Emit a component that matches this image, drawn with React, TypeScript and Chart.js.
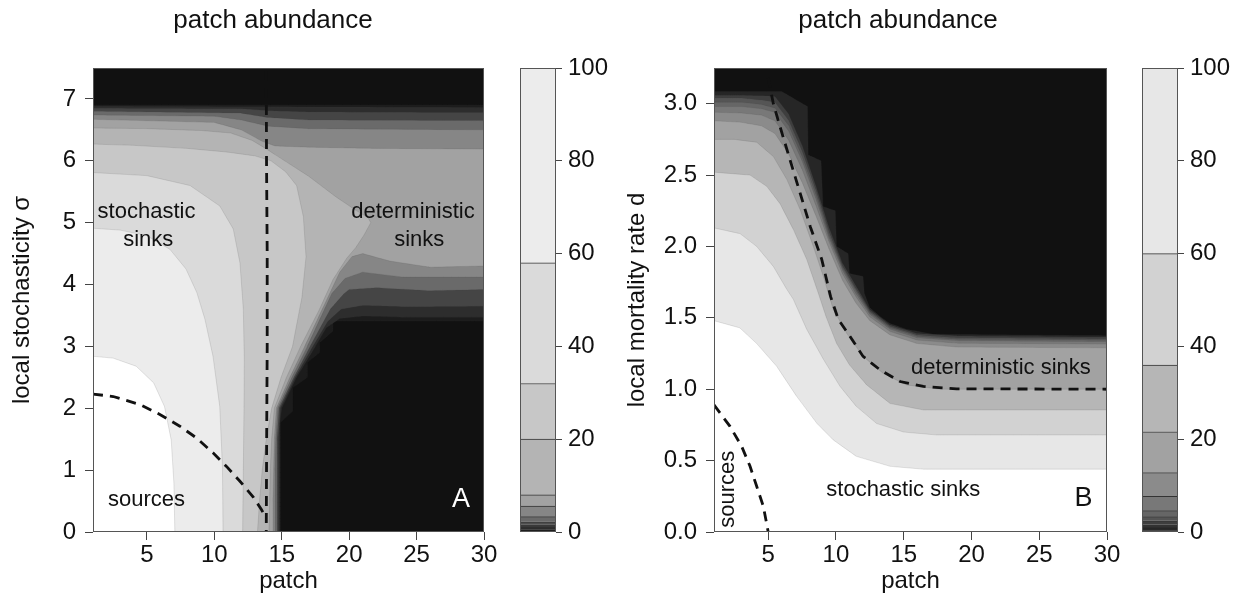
import React, { useEffect, useRef } from "react";
import { Chart, registerables } from "chart.js";

Chart.register(...registerables);

type Pt = [number, number];

const FONT = "'Liberation Sans', Arial, Helvetica, sans-serif";
const INK = "#111111";
const BG_DARK = "#111111";

Chart.defaults.font.family = FONT;
Chart.defaults.color = INK;

// ---------- axis tick values ----------
const patchTicks = [5, 10, 15, 20, 25, 30];
const sigmaTicks = [0, 1, 2, 3, 4, 5, 6, 7];
const mortalityTicks = [0, 0.5, 1.0, 1.5, 2.0, 2.5, 3.0];
const abundanceTicks = [0, 20, 40, 60, 80, 100];

// ---------- Panel A : contour regions (value above level) ----------
const levelsA = [0.25, 0.5, 1.1, 2.2, 3.3, 5.6, 8, 20, 32, 58, 100];
const fillsA = ["#1c1c1c", "#2d2d2d", "#454545", "#6a6a6a", "#868686", "#a2a2a2", "#b4b4b4", "#c7c7c7", "#dadada", "#ececec", "#ffffff"];

const regionA_0_25: Pt[] = [[1, 0], [1, 6.9], [30, 6.9], [30, 3.41], [18.8, 3.41], [18.8, 3.25], [17.8, 3.06], [17.8, 2.9], [16.9, 2.74], [16.9, 2.5], [15.8, 2.33], [15.8, 1.95], [14.9, 1.77], [14.9, 0]];
const regionA_0_5: Pt[] = [[1, 0], [1, 6.88], [30, 6.86], [30, 3.47], [24, 3.47], [21, 3.49], [19.3, 3.45], [18.3, 3.3], [17.5, 3.0], [16.1, 2.5], [15.0, 2.0], [14.85, 1.75], [14.85, 0]];
const regionA_1_1: Pt[] = [[1, 0], [1, 6.85], [12, 6.84], [14, 6.81], [17, 6.79], [30, 6.78], [30, 3.65], [24, 3.64], [21, 3.66], [19.4, 3.6], [18.4, 3.4], [17.3, 3.0], [16.0, 2.5], [14.9, 2.0], [14.75, 1.5], [14.75, 0]];
const regionA_2_2: Pt[] = [[1, 0], [1, 6.8], [12, 6.77], [14, 6.7], [17, 6.66], [30, 6.65], [30, 3.92], [26, 3.9], [22, 3.95], [20, 3.92], [19.6, 3.85], [18.6, 3.6], [17.1, 3.0], [15.9, 2.5], [14.8, 2.0], [14.65, 1.5], [14.65, 0]];
const regionA_3_3: Pt[] = [[1, 0], [1, 6.74], [10, 6.72], [12, 6.66], [14, 6.56], [17, 6.52], [30, 6.5], [30, 4.12], [24, 4.12], [21, 4.2], [19.7, 4.1], [18.7, 3.85], [16.9, 3.0], [15.75, 2.5], [14.7, 2.0], [14.55, 1.5], [14.5, 1.0], [14.5, 0]];
const regionA_5_6: Pt[] = [[1, 0], [1, 6.67], [10, 6.62], [12, 6.5], [13.5, 6.32], [14.5, 6.24], [17, 6.22], [22, 6.2], [30, 6.19], [30, 4.3], [26, 4.28], [23, 4.38], [21, 4.5], [20.2, 4.45], [19.3, 4.2], [16.7, 3.0], [15.6, 2.5], [14.6, 2.0], [14.45, 1.5], [14.4, 1.0], [14.35, 0.5], [14.35, 0]];
const regionA_8: Pt[] = [[1, 0], [1, 6.53], [5, 6.52], [9, 6.49], [11.2, 6.45], [12.8, 6.33], [13.8, 6.2], [14.5, 6.1], [15.5, 5.96], [17, 5.75], [19, 5.42], [20.5, 5.2], [21.4, 5.08], [21.6, 5.0], [21.1, 4.8], [20.5, 4.6], [19.8, 4.42], [18.8, 4.08], [17.8, 3.6], [16.4, 3.0], [15.35, 2.5], [14.45, 2.0], [14.25, 1.5], [14.15, 1.0], [14.1, 0.5], [14.05, 0]];
const regionA_20: Pt[] = [[1, 0], [1, 6.27], [4, 6.25], [8, 6.2], [11, 6.14], [13, 6.08], [14.2, 6.0], [15.3, 5.82], [16.1, 5.6], [16.6, 5.1], [16.8, 4.45], [16.5, 3.8], [15.8, 3.0], [14.95, 2.5], [14.25, 2.0], [13.85, 1.5], [13.55, 1.0], [13.35, 0.5], [13.2, 0]];
const regionA_32: Pt[] = [[1, 0], [1, 5.81], [5, 5.76], [8.2, 5.6], [10.4, 5.27], [11.4, 4.9], [11.9, 4.35], [12.15, 3.6], [12.22, 2.8], [12.2, 2.0], [12.15, 1.0], [12.1, 0]];
const regionA_58: Pt[] = [[1, 0], [1, 4.91], [3, 4.88], [5, 4.79], [6.7, 4.57], [7.9, 4.25], [8.7, 3.87], [9.3, 3.44], [9.9, 2.84], [10.4, 2.03], [10.6, 1.06], [10.65, 0]];
const regionA_100: Pt[] = [[1, 0], [1, 2.84], [2.5, 2.81], [4.2, 2.68], [5.5, 2.41], [6.3, 2.03], [6.8, 1.49], [7.0, 0.79], [7.07, 0]];
const regionsA = [regionA_0_25, regionA_0_5, regionA_1_1, regionA_2_2, regionA_3_3, regionA_5_6, regionA_8, regionA_20, regionA_32, regionA_58, regionA_100];

const dashA_vertical: Pt[] = [[13.85, 7.45], [13.87, 6], [13.92, 4.5], [13.92, 3], [13.88, 1.5], [13.85, 0]];
const dashA_curve: Pt[] = [[1, 2.23], [2.5, 2.19], [4.48, 2.06], [5.96, 1.9], [7.44, 1.71], [8.68, 1.52], [9.9, 1.28], [10.9, 1.06], [11.9, 0.82], [12.87, 0.57], [13.5, 0.36], [13.7, 0.28]];

// ---------- Panel B : contour curves (value above level lies below curve) ----------
const levelsB = [0.3, 1.1, 2.4, 3.3, 4.6, 7.7, 12.8, 21.6, 36, 60, 100];
const fillsB = ["#262626", "#3e3e3e", "#555555", "#666666", "#787878", "#8b8b8b", "#a2a2a2", "#b6b6b6", "#d2d2d2", "#e7e7e7", "#ffffff"];

const curveB_0_3: Pt[] = [[1, 3.085], [6.0, 3.085], [7.9, 2.98], [7.96, 2.64], [8.9, 2.6], [9.05, 2.28], [9.95, 2.25], [10.05, 2.0], [10.9, 1.95], [11.0, 1.81], [12.0, 1.79], [12.1, 1.67], [12.5, 1.57], [13.25, 1.51], [14, 1.46], [15.2, 1.42], [17.2, 1.385], [30, 1.375]];
const curveB_1_1: Pt[] = [[1, 3.06], [3, 3.06], [4.5, 3.055], [5.5, 3.05], [6.5, 2.93], [7.5, 2.71], [8.5, 2.43], [9.5, 2.13], [10.5, 1.88], [11.5, 1.72], [12.5, 1.559], [14, 1.45], [16, 1.39], [19, 1.373], [30, 1.365]];
const curveB_2_4: Pt[] = [[1, 3.04], [3, 3.04], [4.5, 3.025], [5.5, 3.01], [6.5, 2.885], [7.5, 2.67], [8.5, 2.4], [9.5, 2.1], [10.5, 1.86], [11.5, 1.7], [12.5, 1.547], [14, 1.44], [16, 1.38], [19, 1.36], [30, 1.353]];
const curveB_3_3: Pt[] = [[1, 3.01], [3, 3.01], [4.5, 2.995], [5.5, 2.97], [6.5, 2.85], [7.5, 2.63], [8.5, 2.37], [9.5, 2.075], [10.5, 1.845], [11.5, 1.685], [12.5, 1.536], [14, 1.43], [16, 1.37], [19, 1.35], [30, 1.343]];
const curveB_4_6: Pt[] = [[1, 2.98], [3, 2.98], [4.5, 2.965], [5.5, 2.94], [6.5, 2.81], [7.5, 2.6], [8.5, 2.34], [9.5, 2.055], [10.5, 1.83], [11.5, 1.665], [12.5, 1.525], [14, 1.42], [16, 1.36], [19, 1.34], [30, 1.333]];
const curveB_7_7: Pt[] = [[1, 2.94], [3, 2.935], [4.5, 2.92], [5.5, 2.88], [6.5, 2.746], [7.5, 2.54], [8.5, 2.292], [9.5, 2.031], [10.5, 1.805], [11.5, 1.644], [12.5, 1.507], [14, 1.404], [16, 1.344], [19, 1.322], [30, 1.316]];
const curveB_12_8: Pt[] = [[1, 2.88], [3, 2.87], [4.5, 2.845], [5.5, 2.79], [6.5, 2.65], [7.5, 2.45], [8.5, 2.22], [9.5, 1.98], [10.5, 1.76], [11.5, 1.6], [12.5, 1.48], [14, 1.38], [16, 1.32], [19, 1.295], [30, 1.29]];
const curveB_21_6: Pt[] = [[1, 2.75], [2.5, 2.75], [4.15, 2.73], [5.38, 2.63], [6.37, 2.47], [7.35, 2.26], [8.33, 2.0], [9.07, 1.79], [9.8, 1.56], [10.8, 1.39], [12, 1.23], [13.5, 1.11], [15.2, 1.03], [17.7, 1.0], [30, 1.0]];
const curveB_36: Pt[] = [[1, 2.52], [3.66, 2.5], [4.9, 2.42], [5.87, 2.3], [6.85, 2.12], [7.84, 1.91], [8.6, 1.7], [9.3, 1.5], [10.05, 1.32], [11.0, 1.17], [12.27, 1.03], [14, 0.9], [16.45, 0.855], [30, 0.855]];
const curveB_60: Pt[] = [[1, 2.13], [2.92, 2.09], [4.15, 2.0], [5.38, 1.86], [6.37, 1.7], [6.85, 1.63], [7.84, 1.42], [9.07, 1.21], [10.3, 1.02], [11.5, 0.88], [13.0, 0.76], [15, 0.7], [17.4, 0.68], [30, 0.68]];
const curveB_100: Pt[] = [[1, 1.48], [2.9, 1.43], [4.15, 1.32], [5.63, 1.16], [7.1, 0.95], [8.6, 0.76], [9.8, 0.645], [11.5, 0.53], [14, 0.46], [16.45, 0.44], [30, 0.44]];
const curvesB = [curveB_0_3, curveB_1_1, curveB_2_4, curveB_3_3, curveB_4_6, curveB_7_7, curveB_12_8, curveB_21_6, curveB_36, curveB_60, curveB_100];

const dashB_curve: Pt[] = [[5.0, 3.18], [5.38, 3.0], [5.87, 2.84], [6.6, 2.61], [7.35, 2.375], [8.1, 2.14], [8.95, 1.91], [9.6, 1.65], [10.17, 1.49], [11.04, 1.37], [12.0, 1.23], [13.25, 1.136], [14.73, 1.054], [16.45, 1.02], [18.9, 1.003], [30, 1.0]];
const dashB_sources: Pt[] = [[1.0, 0.89], [2.18, 0.74], [3.04, 0.6], [3.66, 0.46], [4.15, 0.32], [4.64, 0.18], [5.0, 0.0]];

// ---------- colour bars ----------
const barLevelsA = [0, 0.25, 0.5, 1.1, 1.6, 2.2, 3.3, 5.6, 8, 20, 32, 58, 100];
const barFillsA = ["#111111", "#1c1c1c", "#2d2d2d", "#3d3d3d", "#4e4e4e", "#6a6a6a", "#868686", "#a2a2a2", "#b4b4b4", "#c7c7c7", "#dadada", "#ececec"];
const barLevelsB = [0, 0.3, 0.6, 1.1, 1.6, 2.4, 3.3, 4.6, 7.7, 12.8, 21.6, 36, 60, 100];
const barFillsB = ["#111111", "#1e1e1e", "#262626", "#333333", "#3e3e3e", "#555555", "#666666", "#787878", "#8b8b8b", "#a2a2a2", "#b6b6b6", "#d2d2d2", "#e7e7e7"];

// ---------- in-plot labels ----------
type Note = { text: string; x: number; y: number; size: number; color: string; rotate?: number };
const notesA: Note[] = [
  { text: "stochastic", x: 4.97, y: 5.17, size: 22, color: INK },
  { text: "sinks", x: 5.1, y: 4.72, size: 22, color: INK },
  { text: "deterministic", x: 24.73, y: 5.17, size: 22, color: INK },
  { text: "sinks", x: 25.2, y: 4.72, size: 22, color: INK },
  { text: "sources", x: 4.97, y: 0.52, size: 22, color: INK },
  { text: "A", x: 28.3, y: 0.53, size: 27, color: "#ffffff" },
];
const notesB: Note[] = [
  { text: "deterministic sinks", x: 22.17, y: 1.147, size: 22, color: INK },
  { text: "stochastic sinks", x: 14.97, y: 0.294, size: 22, color: INK },
  { text: "sources", x: 2.06, y: 0.3, size: 22, color: INK, rotate: -Math.PI / 2 },
  { text: "B", x: 28.26, y: 0.236, size: 27, color: INK },
];

const toXY = (pts: Pt[]) => pts.map(([x, y]) => ({ x, y }));

const framePlugin = {
  id: "frame",
  afterDatasetsDraw(chart: any) {
    const { ctx, chartArea } = chart;
    ctx.save();
    ctx.strokeStyle = "#555555";
    ctx.lineWidth = 1;
    ctx.strokeRect(chartArea.left + 0.5, chartArea.top + 0.5, chartArea.right - chartArea.left - 1, chartArea.bottom - chartArea.top - 1);
    ctx.restore();
  },
};

const notesPlugin = (notes: Note[]) => ({
  id: "notes",
  afterDatasetsDraw(chart: any) {
    const { ctx, scales } = chart;
    for (const n of notes) {
      ctx.save();
      ctx.translate(scales.x.getPixelForValue(n.x), scales.y.getPixelForValue(n.y));
      if (n.rotate) ctx.rotate(n.rotate);
      ctx.font = `${n.size}px ${FONT}`;
      ctx.fillStyle = n.color;
      ctx.textAlign = "center";
      ctx.textBaseline = "middle";
      ctx.fillText(n.text, 0, 0);
      ctx.restore();
    }
  },
});

type PanelOpts = {
  regions: Pt[][];
  fills: string[];
  mode: "shape" | "origin";
  yMax: number;
  yTicks: number[];
  decimals: number;
  yTitle: string;
  yAxisWidth: number;
  yTitlePad: number;
  padRight: number;
  dashes: Pt[][];
  notes: Note[];
};

function panelConfig(o: PanelOpts): any {
  const datasets: any[] = [];
  datasets.push({
    data: toXY([[1, 0], [1, o.yMax], [30, o.yMax], [30, 0]]),
    fill: "shape",
    backgroundColor: BG_DARK,
    borderWidth: 0,
    pointRadius: 0,
    order: 1000,
  });
  o.regions.forEach((r, i) => {
    datasets.push({
      data: toXY(r),
      fill: o.mode,
      backgroundColor: o.fills[i],
      borderColor: "rgba(60,60,60,0.22)",
      borderWidth: 0.6,
      pointRadius: 0,
      tension: 0.000001,
      order: 900 - i,
    });
  });
  o.dashes.forEach((d) => {
    datasets.push({
      data: toXY(d),
      fill: false,
      borderColor: INK,
      borderWidth: 2.8,
      borderDash: [10, 7],
      pointRadius: 0,
      tension: 0,
      order: 1,
    });
  });
  return {
    type: "line",
    data: { datasets },
    options: {
      animation: false,
      responsive: false,
      events: [],
      layout: { padding: { top: 68, right: o.padRight, left: 0, bottom: 0 } },
      plugins: { legend: { display: false }, tooltip: { enabled: false }, title: { display: false } },
      scales: {
        x: {
          type: "linear",
          min: 1,
          max: 30,
          afterBuildTicks: (s: any) => {
            s.ticks = patchTicks.map((v) => ({ value: v }));
          },
          afterFit: (s: any) => {
            s.height = 75;
          },
          grid: { display: true, drawOnChartArea: false, drawTicks: true, tickLength: 8, color: "#444444" },
          border: { display: false },
          ticks: { font: { size: 24 }, color: INK, padding: 1, maxRotation: 0, autoSkip: false, callback: (v: any) => String(v) },
          title: { display: true, text: "patch", font: { size: 24 }, color: INK, padding: { top: 0, bottom: 11 } },
        },
        y: {
          type: "linear",
          min: 0,
          max: o.yMax,
          afterBuildTicks: (s: any) => {
            s.ticks = o.yTicks.map((v) => ({ value: v }));
          },
          afterFit: (s: any) => {
            s.width = o.yAxisWidth;
          },
          grid: { display: true, drawOnChartArea: false, drawTicks: true, tickLength: 8, color: "#444444" },
          border: { display: false },
          ticks: { font: { size: 24 }, color: INK, padding: 9, autoSkip: false, callback: (v: any) => Number(v).toFixed(o.decimals) },
          title: { display: true, text: o.yTitle, font: { size: 24 }, color: INK, padding: { top: o.yTitlePad, bottom: 0 } },
        },
      },
    },
    plugins: [framePlugin, notesPlugin(o.notes)],
  };
}

function colorbarConfig(levels: number[], fills: string[], padLeft: number, axisWidth: number): any {
  const datasets = fills.map((c, i) => ({
    data: [levels[i + 1] - levels[i]],
    backgroundColor: c,
    borderColor: "#333333",
    borderWidth: { top: 1, right: 0, bottom: 0, left: 0 },
    borderSkipped: false,
    barPercentage: 1,
    categoryPercentage: 1,
    stack: "bar",
  }));
  return {
    type: "bar",
    data: { labels: ["abundance"], datasets },
    options: {
      animation: false,
      responsive: false,
      events: [],
      layout: { padding: { left: padLeft, top: 68, bottom: 75, right: 0 } },
      plugins: { legend: { display: false }, tooltip: { enabled: false } },
      scales: {
        x: { display: false, stacked: true },
        y: {
          stacked: true,
          position: "right",
          min: 0,
          max: 100,
          afterBuildTicks: (s: any) => {
            s.ticks = abundanceTicks.map((v) => ({ value: v }));
          },
          afterFit: (s: any) => {
            s.width = axisWidth;
          },
          grid: { display: true, drawOnChartArea: false, drawTicks: true, tickLength: 6, color: "#444444" },
          border: { display: false },
          ticks: { font: { size: 24 }, color: INK, padding: 6 },
        },
      },
    },
    plugins: [framePlugin],
  };
}

const titleStyle = (cx: number): React.CSSProperties => ({
  position: "absolute",
  left: cx - 200,
  width: 400,
  top: 4,
  textAlign: "center",
  font: `26px ${FONT}`,
  lineHeight: "30px",
  color: INK,
});

export default function App() {
  const aRef = useRef<HTMLCanvasElement>(null);
  const aBarRef = useRef<HTMLCanvasElement>(null);
  const bRef = useRef<HTMLCanvasElement>(null);
  const bBarRef = useRef<HTMLCanvasElement>(null);

  useEffect(() => {
    const charts: Chart[] = [];
    charts.push(
      new Chart(
        aRef.current!,
        panelConfig({
          regions: regionsA,
          fills: fillsA,
          mode: "shape",
          yMax: 7.5,
          yTicks: sigmaTicks,
          decimals: 0,
          yTitle: "local stochasticity σ",
          yAxisWidth: 93,
          yTitlePad: 8,
          padRight: 16,
          dashes: [dashA_vertical, dashA_curve],
          notes: notesA,
        })
      )
    );
    charts.push(new Chart(aBarRef.current!, colorbarConfig(barLevelsA, barFillsA, 20, 69)));
    charts.push(
      new Chart(
        bRef.current!,
        panelConfig({
          regions: curvesB,
          fills: fillsB,
          mode: "origin",
          yMax: 3.25,
          yTicks: mortalityTicks,
          decimals: 1,
          yTitle: "local mortality rate d",
          yAxisWidth: 114,
          yTitlePad: 23,
          padRight: 18,
          dashes: [dashB_curve, dashB_sources],
          notes: notesB,
        })
      )
    );
    charts.push(new Chart(bBarRef.current!, colorbarConfig(barLevelsB, barFillsB, 22, 71)));
    return () => charts.forEach((c) => c.destroy());
  }, []);

  return (
    <div style={{ position: "fixed", left: 0, top: 0, width: 1249, height: 607, background: "#ffffff", overflow: "hidden" }}>
      <canvas ref={aRef} width={500} height={607} style={{ position: "absolute", left: 0, top: 0 }} />
      <canvas ref={aBarRef} width={125} height={607} style={{ position: "absolute", left: 500, top: 0 }} />
      <canvas ref={bRef} width={525} height={607} style={{ position: "absolute", left: 600, top: 0 }} />
      <canvas ref={bBarRef} width={129} height={607} style={{ position: "absolute", left: 1120, top: 0 }} />
      <div style={titleStyle(273)}>patch abundance</div>
      <div style={titleStyle(898)}>patch abundance</div>
    </div>
  );
}
